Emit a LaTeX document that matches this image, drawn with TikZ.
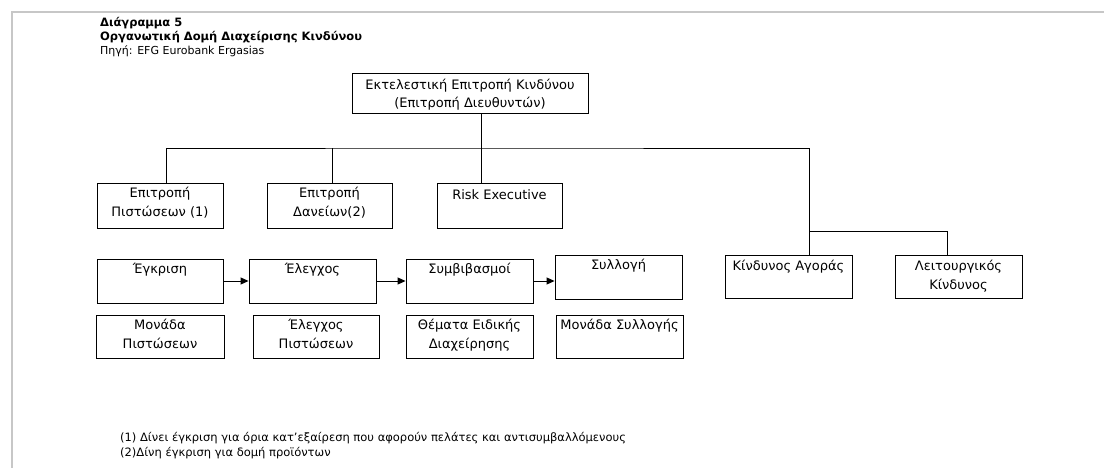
\documentclass[tikz,border=0pt]{standalone}
\usepackage{fontspec}
\setmainfont{DejaVu Sans}
\usetikzlibrary{arrows.meta,calc}
% two centred lines whose baseline is that of the first line
\newcommand\twoline[2]{\begin{tabular}[t]{@{}c@{}}#1\\#2\end{tabular}}
\begin{document}
\begin{tikzpicture}[x=1pt,y=-1pt,
  box/.style={draw=black, line width=0.9pt, inner sep=0pt},
  lbl/.style={anchor=base, inner sep=0pt, font=\fontsize{13}{18.5}\selectfont},
  headline/.style={anchor=base west, inner sep=0pt, font=\bfseries\fontsize{11.5}{13}\selectfont},
  plain/.style={anchor=base west, inner sep=0pt, font=\fontsize{11.5}{13}\selectfont},
  wire/.style={draw=black, line width=0.9pt},
  flow/.style={wire, -{Triangle[length=8pt,width=7pt]}},
  frame/.style={draw=black!22, line width=1.5pt}]
\useasboundingbox (0,0) rectangle (1104,468);
\draw[frame] (12,490) -- (12,12) -- (1130,12);

% heading
\node[headline] (h1) at (100,27) {Διάγραμμα 5};
\node[headline] (h2) at (100,41) {Οργανωτική Δομή Διαχείρισης Κινδύνου};
\node[plain, font=\fontsize{11}{13}\selectfont] (h3) at (100,55) {Πηγή: EFG Eurobank Ergasias};

% top committee
\node[box, minimum width=236, minimum height=40] (T) at (470,93) {};
\node[lbl] (tT) at ([yshift=-16.5pt]T.north) {\twoline{Εκτελεστική Επιτροπή Κινδύνου}{(Επιτροπή Διευθυντών)}};

% committees
\node[box, minimum width=126, minimum height=45] (EP) at (160,205.5) {};
\node[box, minimum width=125, minimum height=45] (ED) at (329.5,205.5) {};
\node[box, minimum width=125, minimum height=45] (RE) at (499.5,205.5) {};
\node[lbl] (tEP) at ([yshift=-15pt]EP.north) {\twoline{Επιτροπή}{Πιστώσεων (1)}};
\node[lbl] (tED) at ([yshift=-15pt]ED.north) {\twoline{Επιτροπή}{Δανείων(2)}};
\node[lbl] (tRE) at ([yshift=-17pt]RE.north) {Risk Executive};

% process chain
\node[box, minimum width=126, minimum height=44] (EG) at (160,281) {};
\node[box, minimum width=127, minimum height=44] (EL) at (312.5,281) {};
\node[box, minimum width=127, minimum height=44] (SM) at (469.5,281) {};
\node[box, minimum width=127, minimum height=44] (SL) at (618.5,277) {};
\node[lbl] (tEG) at ([yshift=-15pt]EG.north) {Έγκριση};
\node[lbl] (tEL) at ([yshift=-15pt]EL.north) {Έλεγχος};
\node[lbl] (tSM) at ([yshift=-15pt]SM.north) {Συμβιβασμοί};
\node[lbl] (tSL) at ([yshift=-15pt]SL.north) {Συλλογή};

% market and operational risk
\node[box, minimum width=127, minimum height=43] (KA) at (788.5,276.5) {};
\node[box, minimum width=127, minimum height=43] (LK) at (958.5,276.5) {};
\node[lbl] (tKA) at ([yshift=-16pt]KA.north) {Κίνδυνος Αγοράς};
\node[lbl] (tLK) at ([yshift=-16pt]LK.north) {\twoline{Λειτουργικός}{Κίνδυνος}};

% units
\node[box, minimum width=128, minimum height=43] (MP) at (160,336.5) {};
\node[box, minimum width=126, minimum height=43] (EPi) at (316,336.5) {};
\node[box, minimum width=127, minimum height=43] (TH) at (469.5,336.5) {};
\node[box, minimum width=127, minimum height=43] (MS) at (619.5,336.5) {};
\node[lbl] (tMP) at ([yshift=-15pt]MP.north) {\twoline{Μονάδα}{Πιστώσεων}};
\node[lbl] (tEPi) at ([yshift=-15pt]EPi.north) {\twoline{Έλεγχος}{Πιστώσεων}};
\node[lbl] (tTH) at ([yshift=-15pt]TH.north) {\twoline{Θέματα Ειδικής}{Διαχείρησης}};
\node[lbl] (tMS) at ([yshift=-15pt]MS.north) {Μονάδα Συλλογής};

% tree connectors
\coordinate (J) at (481,148);
\coordinate (eEP) at ($(EP.north)+(6,0)$);
\coordinate (eED) at ($(ED.north)+(2.5,0)$);
\coordinate (eKA) at ($(KA.north)+(20.5,0)$);
\coordinate (eLK) at ($(LK.north)+(-11.5,0)$);
\coordinate (K) at ($(eKA)+(0,-23)$);
\draw[wire] (T.south -| J) -- (RE.north -| J);
\draw[wire] (eEP) |- (J) -| (eKA);
\draw[wire] (eED) -- (eED |- J);
\draw[wire] (K) -| (eLK);

% process arrows
\draw[flow] (EG.east) -- (EG.east -| EL.west);
\draw[flow] (EL.east) -- (EL.east -| SM.west);
\draw[flow] (SM.east) -- (SM.east -| SL.west);

% notes
\node[plain] (n1) at (120,441) {(1) Δίνει έγκριση για όρια κατ'εξαίρεση που αφορούν πελάτες και αντισυμβαλλόμενους};
\node[plain] (n2) at (120,456) {(2)Δίνη έγκριση για δομή προϊόντων};
\end{tikzpicture}
\end{document}
